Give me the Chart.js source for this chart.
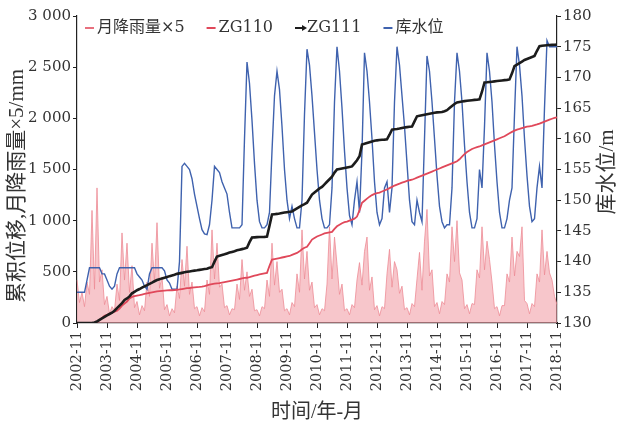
<!DOCTYPE html>
<html>
<head>
<meta charset="utf-8">
<script src="https://cdn.jsdelivr.net/npm/chart.js@4.4.0/dist/chart.umd.min.js"></script>
<style>
  html, body { margin: 0; padding: 0; background: #fff; }
  #wrap { width: 622px; height: 429px; }
</style>
</head>
<body>
<div id="wrap"><canvas id="chart" width="622" height="429"></canvas></div>
<script>
// month labels, 2002-11 .. 2018-11
const months = []
for (let y = 2002, m = 11; months.length < 193; ) {
  months.push(y + '-' + String(m).padStart(2, '0'))
  m++
  if (m > 12) { m = 1; y++ }
}

// monthly rainfall x5 (mm), one row per Nov..Oct year
const rain = [
  420, 200, 300, 160, 400, 280, 1100, 330, 1320, 400, 520, 180,
  260, 90, 160, 120, 380, 220, 880, 420, 780, 300, 560, 150,
  210, 80, 170, 120, 400, 260, 780, 400, 980, 340, 450, 130,
  180, 70, 140, 100, 360, 240, 620, 360, 750, 280, 400, 140,
  160, 70, 150, 110, 420, 280, 910, 430, 780, 350, 380, 150,
  170, 80, 140, 130, 380, 230, 620, 320, 500, 260, 330, 120,
  130, 70, 160, 140, 420, 260, 780, 370, 600, 300, 330, 120,
  140, 80, 200, 160, 480, 300, 910, 430, 700, 320, 400, 150,
  180, 80, 140, 120, 380, 940, 430, 840, 570, 280, 380, 120,
  140, 80, 180, 150, 420, 590, 370, 700, 840, 320, 450, 130,
  170, 70, 160, 140, 480, 720, 350, 600, 520, 290, 360, 130,
  150, 80, 190, 160, 430, 690, 320, 800, 1110, 460, 520, 160,
  200, 90, 210, 180, 480, 400, 940, 600, 1000, 490, 420, 140,
  180, 90, 190, 180, 520, 440, 940, 520, 800, 620, 400, 140,
  160, 70, 170, 170, 480, 400, 840, 460, 700, 650, 940, 220,
  190, 90, 190, 160, 480, 400, 910, 470, 700, 490, 420, 260,
  180
]

// cumulative displacement ZG110 (mm)
const zg110 = [
  0, 0, 0, 0, 0, 0, 0, 0, 10, 30, 50, 70,
  80, 90, 100, 110, 120, 140, 170, 190, 210, 240, 255, 262,
  268, 272, 278, 284, 290, 295, 300, 305, 310, 312, 314, 316,
  318, 320, 320, 322, 325, 328, 332, 336, 340, 342, 345, 348,
  350, 352, 355, 360, 368, 375, 380, 385, 388, 390, 395, 400,
  405, 410, 415, 420, 425, 430, 435, 440, 442, 448, 455, 462,
  468, 474, 480, 485, 490, 560, 620, 625, 630, 635, 640, 645,
  650, 655, 665, 675, 685, 700, 720, 735, 745, 780, 815, 830,
  845, 855, 865, 875, 880, 885, 890, 920, 945, 960, 975, 985,
  990, 1000, 1010, 1020, 1040, 1100, 1175, 1195, 1215, 1235, 1250, 1262,
  1270, 1275, 1285, 1295, 1305, 1318, 1330, 1343, 1353, 1362, 1372, 1380,
  1388, 1395, 1400, 1410, 1420, 1430, 1440, 1450, 1460, 1470, 1480, 1490,
  1500, 1510, 1520, 1530, 1540, 1550, 1560, 1570, 1580, 1600, 1625, 1650,
  1670, 1685, 1700, 1710, 1718, 1725, 1735, 1745, 1755, 1765, 1775, 1785,
  1795, 1805, 1815, 1825, 1840, 1855, 1868, 1880, 1890, 1897, 1905, 1912,
  1918, 1922, 1926, 1933, 1940, 1948, 1958, 1968, 1978, 1988, 1996, 2004,
  2010
]

// cumulative displacement ZG111 (mm)
const zg111 = [
  0, 0, 0, 0, 0, 0, 0, 5, 15, 30, 45, 60,
  75, 88, 100, 120, 145, 170, 195, 225, 240, 260, 290, 305,
  320, 332, 345, 358, 370, 383, 395, 408, 420, 428, 436, 443,
  450, 458, 465, 472, 480, 485, 490, 495, 500, 504, 508, 512,
  515, 519, 523, 527, 530, 540, 545, 600, 650, 658, 665, 672,
  680, 688, 695, 702, 710, 716, 722, 728, 735, 790, 835, 837,
  839, 840, 841, 842, 845, 950, 1060, 1063, 1066, 1070, 1075, 1079,
  1083, 1087, 1090, 1105, 1120, 1135, 1150, 1162, 1175, 1215, 1255, 1275,
  1295, 1315, 1330, 1355, 1380, 1405, 1430, 1470, 1500, 1505, 1510, 1515,
  1520, 1525, 1530, 1560, 1590, 1630, 1745, 1752, 1760, 1767, 1774, 1780,
  1785, 1788, 1790, 1792, 1795, 1840, 1890, 1893, 1896, 1900, 1905, 1910,
  1914, 1917, 1920, 1970, 2020, 2025, 2030, 2035, 2040, 2045, 2050, 2055,
  2058, 2060, 2062, 2070, 2080, 2100, 2120, 2140, 2155, 2160, 2165, 2168,
  2171, 2174, 2177, 2180, 2182, 2185, 2260, 2350, 2352, 2355, 2358, 2361,
  2364, 2367, 2370, 2373, 2376, 2380, 2440, 2510, 2525, 2540, 2555, 2570,
  2580, 2590, 2600, 2610, 2660, 2705, 2710, 2712, 2714, 2716, 2718, 2719,
  2720
]

// reservoir water level (m)
const level = [
  135, 135, 135, 135, 137, 139, 139, 139, 139, 139, 138, 138,
  137, 136, 135.5, 136, 138, 139, 139, 139, 139, 139, 139, 139,
  138, 137.5, 137, 136, 135.5, 138, 139, 139, 139, 139, 139, 138.5,
  137, 136.5, 135.5, 135.5, 135.5, 140, 155.5, 156, 155.5, 155, 153.5, 151,
  149, 147, 145.2, 144.5, 144.4, 146, 150, 155.5, 155, 154.5, 153, 152,
  151, 148, 145.5, 145.5, 145.5, 145.5, 146, 160, 172.5, 169, 163, 156,
  150, 146.5, 145.5, 145.5, 146, 148, 158, 167, 171, 168, 162, 155,
  150, 147, 149, 147, 145.5, 145.5, 150, 164, 174.6, 172, 167, 161,
  155, 150, 147, 145.5, 145.5, 146, 152, 166, 175, 171, 165, 158,
  152, 147.5, 146, 150, 153, 148, 158, 174, 171, 166, 160, 153,
  148, 146, 147, 152, 153, 148, 152, 166, 175, 172, 167, 162,
  156, 150, 146.5, 146, 150, 148, 146.5, 160, 173.5, 171, 166, 160,
  154, 149, 146.5, 145.5, 146, 146, 152, 166, 174, 171, 166, 159,
  153, 148, 145.5, 145.5, 147, 155, 152, 162, 174, 171, 166, 159,
  153, 148, 145.5, 145.5, 147, 150, 152, 164, 175, 172, 167, 160,
  154, 149, 146.5, 147, 152, 155.5, 152, 165, 176, 175, 175, 175,
  175
]

const serif = "'DejaVu Serif', 'Noto Sans CJK SC', serif"
const cjk = "'DejaVu Serif', 'Noto Sans CJK SC', sans-serif"
const titleFont = "'Liberation Serif', 'Noto Sans CJK SC', serif"

function fmt(v) {
  if (v >= 1000) return Math.floor(v / 1000) + ' ' + String(v % 1000).padStart(3, '0')
  return String(v)
}

// both side titles, read bottom-to-top
const sideTitles = {
  id: 'sideTitles',
  afterDraw(chart) {
    const ctx = chart.ctx
    const put = (text, x, y) => {
      ctx.save()
      ctx.translate(x, y)
      ctx.rotate(-Math.PI / 2)
      ctx.font = '21px ' + titleFont
      ctx.fillStyle = '#333'
      ctx.textAlign = 'center'
      ctx.textBaseline = 'middle'
      ctx.fillText(text, 0, 0)
      ctx.restore()
    }
    put('累积位移,月降雨量×5/mm', 17, 186)
    put('库水位/m', 607, 172)
  }
}

// one-row legend inside the top of the plot
const rowLegend = {
  id: 'rowLegend',
  afterDraw(chart) {
    const ctx = chart.ctx
    const y = chart.chartArea.top + 12
    let x = chart.chartArea.left + 8
    ctx.save()
    ctx.font = '16px ' + cjk
    ctx.textBaseline = 'middle'
    chart.data.datasets.forEach(ds => {
      ctx.strokeStyle = ds.legendColor || ds.borderColor
      ctx.lineWidth = 2
      ctx.beginPath()
      ctx.moveTo(x, y)
      ctx.lineTo(x + 9, y)
      ctx.stroke()
      if (ds.label === 'ZG111') {
        ctx.fillStyle = ds.borderColor
        ctx.beginPath()
        ctx.moveTo(x + 12, y)
        ctx.lineTo(x + 7, y - 3)
        ctx.lineTo(x + 7, y + 3)
        ctx.fill()
      }
      x += 12
      ctx.fillStyle = '#333'
      ctx.fillText(ds.label, x, y)
      x += ctx.measureText(ds.label).width + 22
    })
    ctx.restore()
  }
}

const ctx = document.getElementById('chart').getContext('2d')
new Chart(ctx, {
  type: 'line',
  data: {
    labels: months,
    datasets: [
      {
        label: '月降雨量×5',
        data: rain,
        yAxisID: 'y',
        borderColor: 'rgba(238,140,150,0.8)',
        legendColor: '#e8707e',
        backgroundColor: 'rgba(242,160,168,0.6)',
        borderWidth: 1,
        fill: 'origin',
        pointRadius: 0,
        tension: 0,
        order: 4
      },
      {
        label: 'ZG110',
        data: zg110,
        yAxisID: 'y',
        borderColor: '#e0485a',
        borderWidth: 1.8,
        pointRadius: 0,
        tension: 0,
        order: 2
      },
      {
        label: 'ZG111',
        data: zg111,
        yAxisID: 'y',
        borderColor: '#1c1c1c',
        borderWidth: 2.6,
        pointRadius: 0,
        tension: 0,
        order: 1
      },
      {
        label: '库水位',
        data: level,
        yAxisID: 'y1',
        borderColor: '#3f62ae',
        borderWidth: 1.4,
        pointRadius: 0,
        tension: 0,
        order: 3
      }
    ]
  },
  options: {
    responsive: false,
    animation: false,
    layout: { padding: { top: 16, left: 0, right: 0, bottom: 0 } },
    plugins: {
      tooltip: { enabled: false },
      legend: { display: false }
    },
    scales: {
      x: {
        grid: { display: true, drawOnChartArea: false, tickLength: 5, color: '#222' },
        border: { display: true, color: '#222', width: 1.2 },
        ticks: {
          autoSkip: false,
          maxRotation: 90,
          minRotation: 90,
          color: '#333',
          font: { family: serif, size: 14.5 },
          callback: (v, i) => (i % 12 === 0 ? months[i] : null)
        },
        title: { display: true, text: '时间/年-月', color: '#333', font: { family: titleFont, size: 20 }, padding: { top: 2 } },
        afterFit: s => { s.height = 106 }
      },
      y: {
        position: 'left',
        min: 0,
        max: 3000,
        grid: { display: true, drawOnChartArea: false, tickLength: 4, color: '#222' },
        border: { display: true, color: '#222', width: 1.2 },
        ticks: {
          stepSize: 500,
          color: '#333',
          padding: 2,
          font: { family: serif, size: 15 },
          callback: v => fmt(v)
        },
        afterFit: s => { s.width = 77 }
      },
      y1: {
        position: 'right',
        min: 130,
        max: 180,
        grid: { display: true, drawOnChartArea: false, tickLength: 4, color: '#222' },
        border: { display: true, color: '#222', width: 1.2 },
        ticks: {
          stepSize: 5,
          color: '#333',
          padding: 2,
          font: { family: serif, size: 15 }
        },
        afterFit: s => { s.width = 65 }
      }
    }
  },
  plugins: [sideTitles, rowLegend]
})
</script>
</body>
</html>
